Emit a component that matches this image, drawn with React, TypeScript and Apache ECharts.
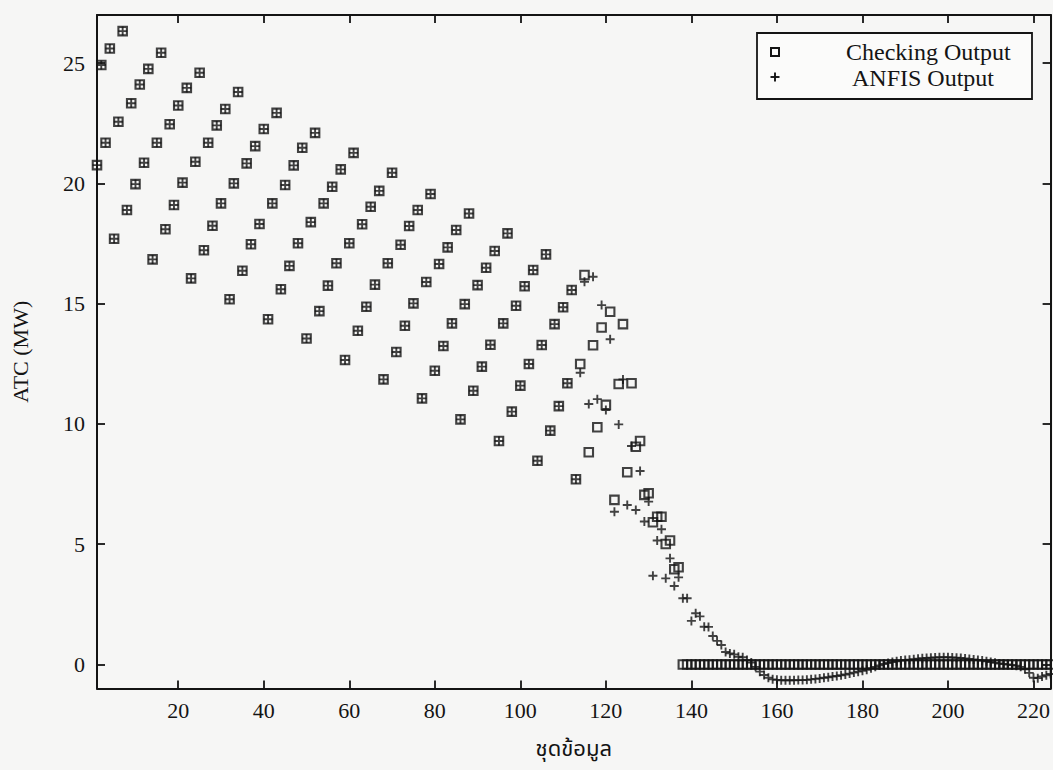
import React, { useEffect, useRef } from "react";
import * as echarts from "echarts";

// Measured ATC (MW) for each data set (ชุดข้อมูล 1..224)
const checkingOutput: number[] = [
  20.76, 24.92, 21.69, 25.61, 17.7, 22.56, 26.33, 18.89, 23.33, 19.97,
  24.11, 20.86, 24.76, 16.84, 21.69, 25.43, 18.09, 22.46, 19.1, 23.24,
  20.03, 23.97, 16.05, 20.9, 24.6, 17.22, 21.69, 18.24, 22.41, 19.17,
  23.09, 15.18, 20.0, 23.8, 16.37, 20.83, 17.47, 21.55, 18.31, 22.26,
  14.35, 19.17, 22.93, 15.6, 19.93, 16.57, 20.75, 17.51, 21.48, 13.55,
  18.39, 22.1, 14.69, 19.17, 15.75, 19.86, 16.68, 20.58, 12.66, 17.51,
  21.27, 13.87, 18.3, 14.87, 19.03, 15.79, 19.69, 11.85, 16.68, 20.44,
  12.99, 17.45, 14.08, 18.23, 15.01, 18.89, 11.06, 15.9, 19.56, 12.21,
  16.65, 13.24, 17.34, 14.18, 18.06, 10.19, 14.98, 18.75, 11.38, 15.77,
  12.38, 16.49, 13.29, 17.19, 9.29, 14.18, 17.92, 10.51, 14.91, 11.59,
  15.72, 12.49, 16.4, 8.47, 13.28, 17.05, 9.72, 14.15, 10.74, 14.85,
  11.69, 15.57, 7.7, 12.49, 16.19, 8.82, 13.27, 9.86, 14.01, 10.79,
  14.66, 6.84, 11.66, 14.15, 7.99, 11.69, 9.05, 9.29, 7.05, 7.12,
  5.91, 6.14, 6.14, 5.01, 5.15, 3.96, 4.04, 0, 0, 0,
  0, 0, 0, 0, 0, 0, 0, 0, 0, 0,
  0, 0, 0, 0, 0, 0, 0, 0, 0, 0,
  0, 0, 0, 0, 0, 0, 0, 0, 0, 0,
  0, 0, 0, 0, 0, 0, 0, 0, 0, 0,
  0, 0, 0, 0, 0, 0, 0, 0, 0, 0,
  0, 0, 0, 0, 0, 0, 0, 0, 0, 0,
  0, 0, 0, 0, 0, 0, 0, 0, 0, 0,
  0, 0, 0, 0, 0, 0, 0, 0, 0, 0,
  0, 0, 0, 0,
];

// ANFIS model output for the same data sets
const anfisOutput: number[] = [
  20.76, 24.92, 21.69, 25.61, 17.7, 22.56, 26.33, 18.89, 23.33, 19.97,
  24.11, 20.86, 24.76, 16.84, 21.69, 25.43, 18.09, 22.46, 19.1, 23.24,
  20.03, 23.97, 16.05, 20.9, 24.6, 17.22, 21.69, 18.24, 22.41, 19.17,
  23.09, 15.18, 20.0, 23.8, 16.37, 20.83, 17.47, 21.55, 18.31, 22.26,
  14.35, 19.17, 22.93, 15.6, 19.93, 16.57, 20.75, 17.51, 21.48, 13.55,
  18.39, 22.1, 14.69, 19.17, 15.75, 19.86, 16.68, 20.58, 12.66, 17.51,
  21.27, 13.87, 18.3, 14.87, 19.03, 15.79, 19.69, 11.85, 16.68, 20.44,
  12.99, 17.45, 14.08, 18.23, 15.01, 18.89, 11.06, 15.9, 19.56, 12.21,
  16.65, 13.24, 17.34, 14.18, 18.06, 10.19, 14.98, 18.75, 11.38, 15.77,
  12.38, 16.49, 13.29, 17.19, 9.29, 14.18, 17.92, 10.51, 14.91, 11.59,
  15.72, 12.49, 16.4, 8.47, 13.28, 17.05, 9.72, 14.15, 10.74, 14.85,
  11.69, 15.57, 7.7, 12.13, 15.91, 10.83, 16.12, 11.03, 14.94, 10.58,
  13.52, 6.35, 9.98, 11.85, 6.63, 9.08, 6.42, 8.04, 5.94, 6.77,
  3.69, 5.15, 5.62, 3.58, 4.41, 3.26, 3.62, 2.75, 2.75, 1.81,
  2.13, 2.0, 1.57, 1.56, 1.18, 0.98, 0.81, 0.52, 0.46, 0.42,
  0.32, 0.3, 0.18, 0.08, -0.1, -0.3, -0.44, -0.55, -0.62, -0.64,
  -0.66, -0.66, -0.66, -0.66, -0.65, -0.65, -0.64, -0.62, -0.6, -0.58,
  -0.55, -0.53, -0.5, -0.48, -0.45, -0.42, -0.38, -0.34, -0.3, -0.26,
  -0.22, -0.16, -0.1, -0.04, 0.02, 0.06, 0.1, 0.13, 0.16, 0.18,
  0.2, 0.22, 0.24, 0.26, 0.27, 0.28, 0.29, 0.3, 0.3, 0.3,
  0.29, 0.28, 0.27, 0.25, 0.23, 0.21, 0.19, 0.16, 0.13, 0.1,
  0.07, 0.04, 0.02, 0.0, -0.02, -0.05, -0.1, -0.2, -0.35, -0.55,
  -0.57, -0.5, -0.45, -0.4,
];

const xTicks = [20, 40, 60, 80, 100, 120, 140, 160, 180, 200, 220];
const yTicks = [0, 5, 10, 15, 20, 25];

const seriesNames = ["Checking Output", "ANFIS Output"];
const xTitle = "ชุดข้อมูล";
const yTitle = "ATC (MW)";

const INK = "#141414";
const SERIF = "'Liberation Serif', 'Times New Roman', serif";
const THAI = "'Noto Sans Thai', 'Noto Serif Thai', 'Loma', 'Garuda', 'Liberation Serif', 'DejaVu Sans', sans-serif";
const PLUS = "path://M0,5L10,5M5,0L5,10";

const toPoints = (values: number[]) => values.map((v, k) => [k + 1, v]);

export default function App() {
  const ref = useRef<HTMLDivElement>(null);

  useEffect(() => {
    if (!ref.current) return;
    const chart = echarts.init(ref.current, undefined, { renderer: "svg" });

    const tickLine = { lineStyle: { color: INK, width: 1.8 } };
    const xBase = {
      type: "value" as const,
      min: 1,
      max: 224,
      splitLine: { show: false },
      axisLine: { show: true, onZero: false, lineStyle: { color: INK, width: 2 } },
    };
    const yBase = {
      type: "value" as const,
      min: -1,
      max: 27,
      splitLine: { show: false },
      axisLine: { show: true, onZero: false, lineStyle: { color: INK, width: 2 } },
    };

    chart.setOption({
      animation: false,
      backgroundColor: "#f6f6f5",
      grid: { left: 97, top: 15, width: 957, height: 673.5 },
      xAxis: [
        {
          ...xBase,
          position: "bottom",
          name: xTitle,
          nameLocation: "middle",
          nameGap: 50,
          nameTextStyle: { fontFamily: THAI, fontSize: 22, color: INK },
          axisTick: { show: true, inside: true, length: 8, customValues: xTicks, ...tickLine },
          axisLabel: {
            show: true,
            customValues: xTicks,
            fontFamily: SERIF,
            fontSize: 22,
            color: INK,
            margin: 11,
          },
        },
        {
          ...xBase,
          position: "top",
          axisTick: { show: true, inside: true, length: 8, customValues: xTicks, ...tickLine },
          axisLabel: { show: false },
        },
      ],
      yAxis: [
        {
          ...yBase,
          position: "left",
          name: yTitle,
          nameLocation: "middle",
          nameGap: 66,
          nameRotate: 90,
          nameTextStyle: { fontFamily: SERIF, fontSize: 22, color: INK },
          axisTick: { show: true, inside: true, length: 8, customValues: yTicks, ...tickLine },
          axisLabel: {
            show: true,
            customValues: yTicks,
            fontFamily: SERIF,
            fontSize: 22,
            color: INK,
            margin: 12,
          },
        },
        {
          ...yBase,
          position: "right",
          axisTick: { show: true, inside: true, length: 8, customValues: yTicks, ...tickLine },
          axisLabel: { show: false },
        },
      ],
      series: [
        {
          name: seriesNames[0],
          type: "scatter",
          xAxisIndex: 0,
          yAxisIndex: 0,
          data: toPoints(checkingOutput),
          symbol: "rect",
          symbolSize: 8.5,
          clip: false,
          itemStyle: { color: "rgba(0,0,0,0)", borderColor: INK, borderWidth: 2.1 },
          emphasis: { disabled: true },
        },
        {
          name: seriesNames[1],
          type: "scatter",
          xAxisIndex: 0,
          yAxisIndex: 0,
          data: toPoints(anfisOutput),
          symbol: PLUS,
          symbolSize: 9,
          clip: false,
          itemStyle: { color: "rgba(0,0,0,0)", borderColor: INK, borderWidth: 1.9 },
          emphasis: { disabled: true },
        },
      ],
      graphic: [
        {
          type: "group",
          z: 100,
          children: [
            {
              type: "rect",
              shape: { x: 757, y: 33, width: 275, height: 66 },
              style: { fill: "#fbfbfa", stroke: INK, lineWidth: 1.8 },
            },
            {
              type: "rect",
              shape: { x: 771, y: 48, width: 8, height: 8 },
              style: { fill: "none", stroke: INK, lineWidth: 2 },
            },
            {
              type: "line",
              shape: { x1: 770.5, y1: 77, x2: 779.5, y2: 77 },
              style: { stroke: INK, lineWidth: 1.9 },
            },
            {
              type: "line",
              shape: { x1: 775, y1: 72.5, x2: 775, y2: 81.5 },
              style: { stroke: INK, lineWidth: 1.9 },
            },
            {
              type: "text",
              x: 846,
              y: 52,
              style: {
                text: seriesNames[0],
                fontFamily: SERIF,
                fontSize: 24,
                fill: INK,
                verticalAlign: "middle",
              },
            },
            {
              type: "text",
              x: 852,
              y: 78,
              style: {
                text: seriesNames[1],
                fontFamily: SERIF,
                fontSize: 24,
                fill: INK,
                verticalAlign: "middle",
              },
            },
          ],
        },
      ],
    });

    return () => chart.dispose();
  }, []);

  return (
    <div
      ref={ref}
      style={{ position: "absolute", left: 0, top: 0, width: 1053, height: 770 }}
    />
  );
}
